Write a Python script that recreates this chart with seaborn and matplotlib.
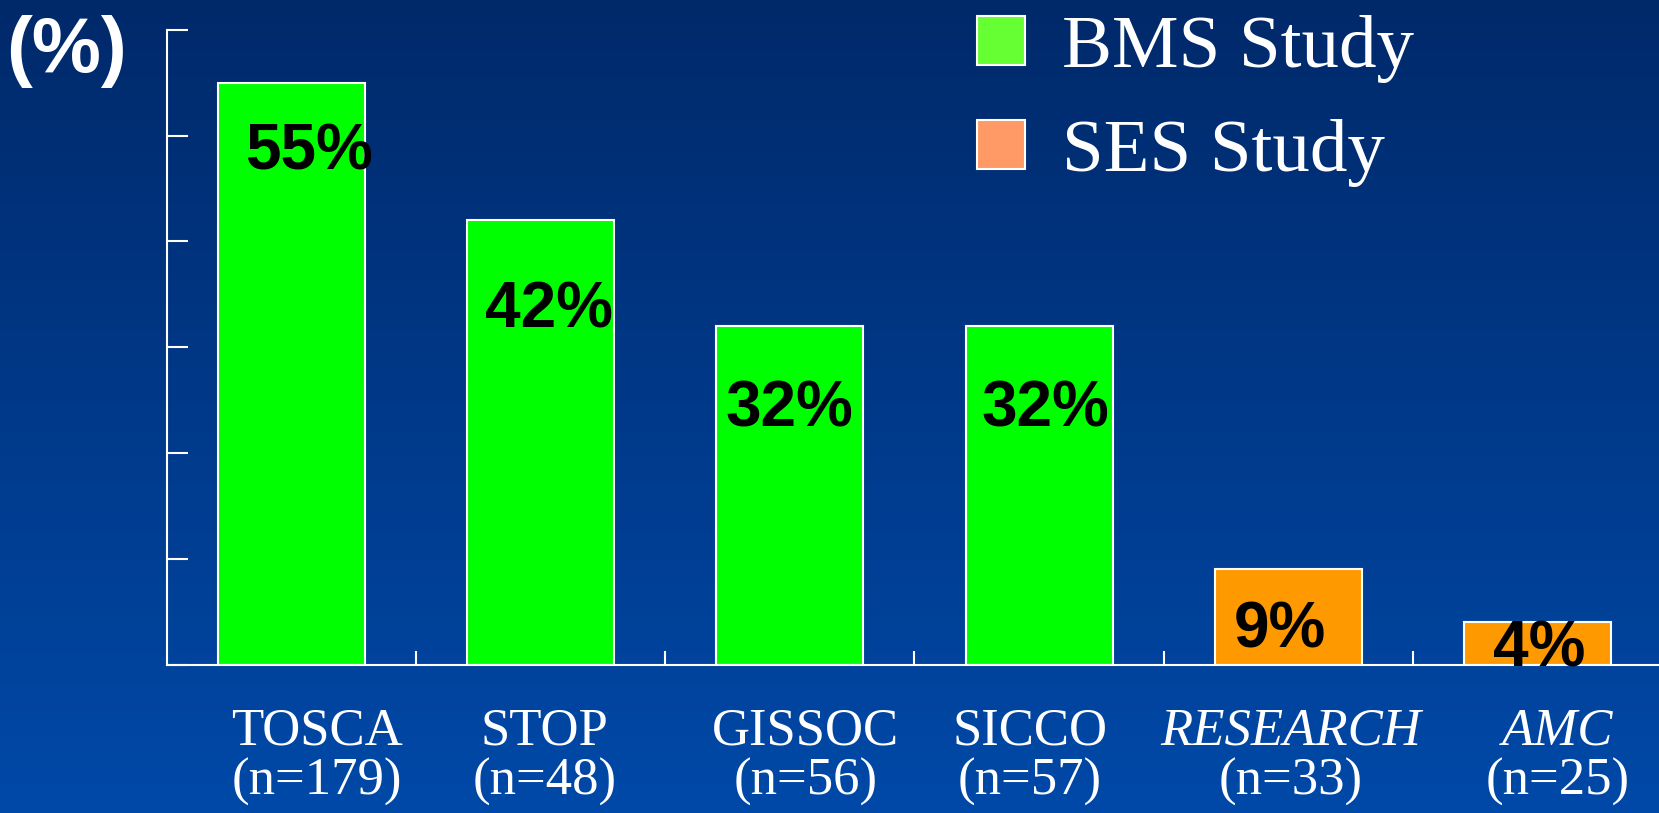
import numpy as np
import pandas as pd
import matplotlib
matplotlib.use("Agg")
import matplotlib.pyplot as plt
from matplotlib.colors import LinearSegmentedColormap
from matplotlib.patches import Patch
import seaborn as sns

# ---- data ----
studies = ["TOSCA", "STOP", "GISSOC", "SICCO", "RESEARCH", "AMC"]
sample_sizes = [179, 48, 56, 57, 33, 25]
rates = [55, 42, 32, 32, 9, 4]
study_type = ["BMS Study", "BMS Study", "BMS Study", "BMS Study",
              "SES Study", "SES Study"]
yticks = [0, 10, 20, 30, 40, 50, 60]
italic_names = {"RESEARCH", "AMC"}

# ---- styling ----
bar_colors = {"BMS Study": "#00FF00", "SES Study": "#FF9900"}
legend_colors = {"BMS Study": "#66FF33", "SES Study": "#FF9966"}

# label nudges in pixels: value labels (right, down from bar top), names (right)
value_label_dx = [18, 8, 0, 6, -8, 2]
value_label_dy = [87, 107, 100, 100, 78, 44]
name_label_dx = [26, 4, 16, -9, 2, 20]

SANS = ["Liberation Sans", "DejaVu Sans"]
SERIF = ["Liberation Serif", "DejaVu Serif"]

sns.set_theme(style="white")
plt.rcParams["font.family"] = SERIF

W, H, DPI = 1659, 813, 100
PT = 72 / DPI  # points per pixel
fig = plt.figure(figsize=(W / DPI, H / DPI), dpi=DPI)

# gradient backdrop
bg = fig.add_axes([0, 0, 1, 1], zorder=-10)
grad = np.linspace(0, 1, 256).reshape(-1, 1)
cmap = LinearSegmentedColormap.from_list("backdrop", ["#00296A", "#0049A8"])
bg.imshow(grad, aspect="auto", cmap=cmap, extent=[0, 1, 0, 1], origin="upper")
bg.set_axis_off()

# main plotting area
x0, y_base, y_top, cat_w = 166.5, 664.5, 30.0, 249.3
ax = fig.add_axes([x0 / W, 1 - y_base / H, 6 * cat_w / W, (y_base - y_top) / H])
ax.patch.set_alpha(0)

df = pd.DataFrame({"study": studies, "rate": rates, "type": study_type})
sns.barplot(data=df, x="study", y="rate", hue="type", palette=bar_colors,
            dodge=False, width=0.59, edgecolor="white", linewidth=1.5,
            saturation=1, legend=False, ax=ax)

ax.set_xlim(-0.5, len(studies) - 0.5)
ax.set_ylim(yticks[0], yticks[-1])
ax.set_yticks(yticks)
ax.set_yticklabels([])
ax.set_xticks(np.arange(0.5, len(studies) - 1, 1.0))
ax.set_xticklabels([])
ax.set_xlabel("")
ax.grid(False)
sns.despine(ax=ax)
for side in ("left", "bottom"):
    ax.spines[side].set_color("white")
    ax.spines[side].set_linewidth(1.5)
ax.tick_params(axis="y", left=True, direction="in", length=15, width=1.5, color="white")
ax.tick_params(axis="x", bottom=True, direction="in", length=10, width=1.5, color="white")

# y-axis unit label
ax.set_ylabel("(%)", rotation=0, fontsize=56, fontweight="bold",
              family=SANS, color="white", ha="center", va="center")
ax.yaxis.set_label_coords((67 - x0) / (6 * cat_w), (y_base - 52) / (y_base - y_top))

# value labels on bars
for i, v in enumerate(rates):
    ax.annotate(f"{v}%", xy=(i, v),
                xytext=(value_label_dx[i] * PT, -value_label_dy[i] * PT),
                textcoords="offset points", ha="center", va="baseline",
                fontsize=46, fontweight="bold", family=SANS, color="black",
                zorder=5, annotation_clip=False)

# category names with sample sizes
for i, (name, n) in enumerate(zip(studies, sample_sizes)):
    style = "italic" if name in italic_names else "normal"
    ax.annotate(name, xy=(i, 0), xytext=(name_label_dx[i] * PT, -80 * PT),
                textcoords="offset points", ha="center", va="baseline",
                fontsize=38, style=style, color="white", annotation_clip=False)
    ax.annotate(f"(n={n})", xy=(i, 0), xytext=(name_label_dx[i] * PT, -130 * PT),
                textcoords="offset points", ha="center", va="baseline",
                fontsize=38, color="white", annotation_clip=False)

# legend
handles = [Patch(facecolor=legend_colors[k], edgecolor="white", linewidth=1.5, label=k)
           for k in ["BMS Study", "SES Study"]]
leg = fig.legend(handles=handles, loc="upper left",
                 bbox_to_anchor=(977 / W, 1 - 15 / H), frameon=False,
                 fontsize=54, handlelength=0.64, handleheight=0.64,
                 handletextpad=0.5, labelspacing=0.48, borderpad=0,
                 borderaxespad=0)
for t in leg.get_texts():
    t.set_color("white")

fig.savefig("out.png", dpi=DPI)
